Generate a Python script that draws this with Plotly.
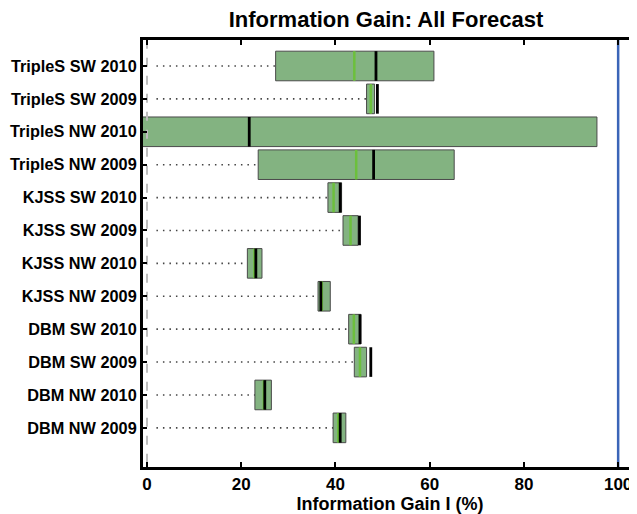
import plotly.graph_objects as go

labels = ["TripleS SW 2010", "TripleS SW 2009", "TripleS NW 2010", "TripleS NW 2009",
          "KJSS SW 2010", "KJSS SW 2009", "KJSS NW 2010", "KJSS NW 2009",
          "DBM SW 2010", "DBM SW 2009", "DBM NW 2010", "DBM NW 2009"]
box_low = [27.3, 46.6, -1.0, 23.6, 38.4, 41.6, 21.3, 36.3, 42.8, 44.0, 22.9, 39.5]
box_high = [60.9, 48.3, 95.5, 65.2, 41.3, 44.8, 24.4, 38.9, 45.4, 46.6, 26.4, 42.2]
green_mark = [44.0, 47.5, None, 44.4, 39.6, 43.2, 22.8, 37.1, 43.9, 45.2, 24.8, 40.6]
black_mark = [48.6, 48.9, 21.7, 48.1, 41.0, 45.1, 23.1, 36.9, 45.2, 47.5, 25.0, 41.0]
dot_start = 2.0
ref_line = 100
xticks = [0, 20, 40, 60, 80, 100]

rows = list(range(1, len(labels) + 1))
half = 0.45
FONT = "Liberation Sans"
YRANGE = [13.19, 0.21]

fig = go.Figure()

# dotted whiskers
dx, dy = [], []
for r, lo in zip(rows, box_low):
    if lo > dot_start:
        dx += [dot_start, lo, None]
        dy += [r, r, None]
fig.add_trace(go.Scatter(x=dx, y=dy, mode="lines",
                         line=dict(color="#444444", width=1.6, dash="1.5px,5px"),
                         hoverinfo="skip", showlegend=False))

# boxes
fig.add_trace(go.Bar(orientation="h", y=rows,
                     x=[h - l for l, h in zip(box_low, box_high)], base=box_low,
                     width=0.9, marker=dict(color="#83b381", line=dict(color="#4a4a4a", width=1)),
                     showlegend=False, hoverinfo="skip"))

# green marks
gx, gy = [], []
for r, g in zip(rows, green_mark):
    if g is not None:
        gx += [g, g, None]
        gy += [r - half, r + half, None]
fig.add_trace(go.Scatter(x=gx, y=gy, mode="lines", line=dict(color="#6cc03c", width=2.5),
                         hoverinfo="skip", showlegend=False))

# black marks
bx, by = [], []
for r, b in zip(rows, black_mark):
    bx += [b, b, None]
    by += [r - half, r + half, None]
fig.add_trace(go.Scatter(x=bx, y=by, mode="lines", line=dict(color="black", width=2.8),
                         hoverinfo="skip", showlegend=False))

# vertical reference lines
fig.add_trace(go.Scatter(x=[0, 0], y=[0.2, 13.2], mode="lines",
                         line=dict(color="#bdbdbd", width=2, dash="dash"),
                         hoverinfo="skip", showlegend=False))
fig.add_trace(go.Scatter(x=[ref_line, ref_line], y=[0.2, 13.2], mode="lines",
                         line=dict(color="#3b65b8", width=2.5),
                         hoverinfo="skip", showlegend=False))

# invisible trace so the right-hand tick axis is drawn
fig.add_trace(go.Scatter(x=[ref_line] * len(rows), y=rows, yaxis="y2", mode="markers",
                         marker=dict(opacity=0), hoverinfo="skip", showlegend=False))

# page body has an 8px margin, so the figure is sized/offset accordingly
fig.update_layout(
    width=629, height=506,
    margin=dict(l=135, r=0, t=32, b=47),
    plot_bgcolor="white", paper_bgcolor="white",
    title=dict(text="<b>Information Gain: All Forecast</b>", x=0.601, xanchor="center",
               y=0.978, yanchor="middle", font=dict(family=FONT, size=22, color="black")),
    xaxis=dict(range=[-0.85, 104.0], tickvals=xticks, ticks="inside", ticklen=5, tickwidth=2,
               tickcolor="black", showline=True, linewidth=3, linecolor="black", mirror="ticks",
               showgrid=False, zeroline=False, automargin=False,
               tickfont=dict(family=FONT, size=17, color="black", weight="bold"),
               title=dict(text="<b>Information Gain I (%)</b>", standoff=0,
                          font=dict(family=FONT, size=18, color="black"))),
    yaxis=dict(range=YRANGE, tickvals=rows, ticktext=labels, ticks="inside", ticklen=4,
               tickwidth=2, tickcolor="black", showline=True, linewidth=3, linecolor="black",
               mirror=False, showgrid=False, zeroline=False, automargin=False,
               tickfont=dict(family=FONT, size=16.3, color="black", weight="bold")),
    yaxis2=dict(range=YRANGE, overlaying="y", side="right", tickvals=rows, ticks="inside",
                ticklen=3, tickwidth=2, tickcolor="black", showticklabels=False,
                showline=False, showgrid=False, zeroline=False, automargin=False),
)

fig.write_html("out.html")
